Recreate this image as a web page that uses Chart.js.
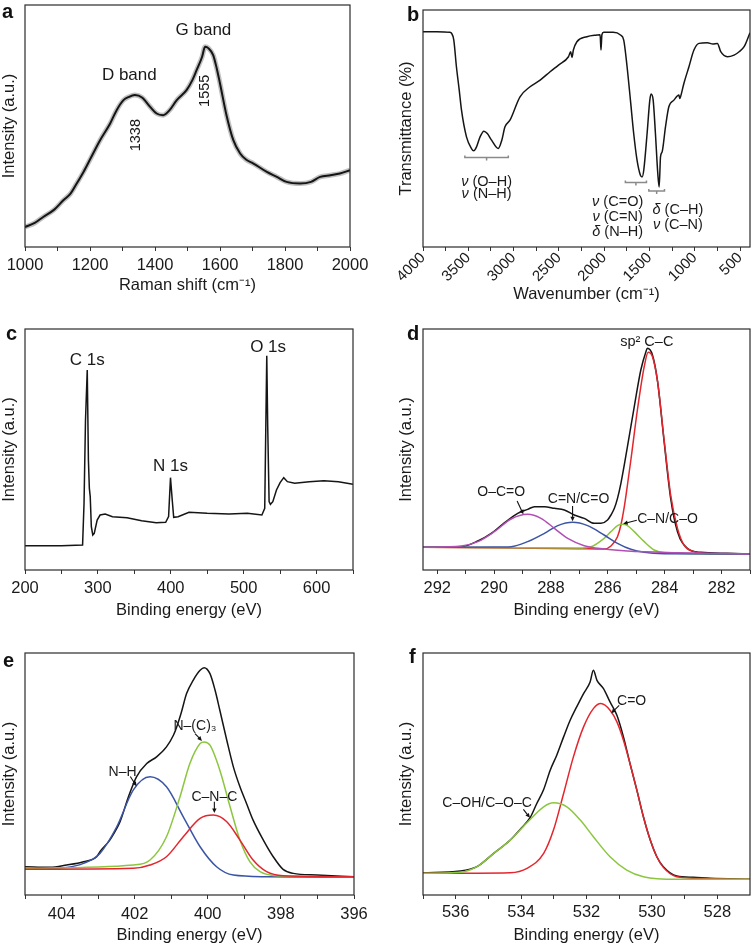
<!DOCTYPE html>
<html><head><meta charset="utf-8">
<script src="https://cdn.jsdelivr.net/npm/chart.js@4.4.1/dist/chart.umd.min.js"></script>
<style>
html,body{margin:0;padding:0;background:#fff;}
#wrap{position:relative;width:754px;height:946px;overflow:hidden;background:#fff;}
canvas{position:absolute;}
</style></head><body><div id="wrap">
<canvas id="ca" width="377" height="300" style="left:0;top:0"></canvas>
<canvas id="cb" width="377" height="305" style="left:377px;top:0"></canvas>
<canvas id="cc" width="377" height="305" style="left:0;top:315px"></canvas>
<canvas id="cd" width="377" height="305" style="left:377px;top:315px"></canvas>
<canvas id="ce" width="377" height="316" style="left:0;top:630px"></canvas>
<canvas id="cf" width="377" height="316" style="left:377px;top:630px"></canvas>
</div>
<script>
// ---------- DATA ----------
// (a) Raman
const ramanShift = [1000,1030,1056,1090,1118,1140,1159,1180,1200,1231,1262,1282,1303,1320,1338,1360,1385,1405,1425,1445,1467,1497,1515,1528,1545,1554,1565,1579,1590,1600,1620,1641,1662,1680,1703,1744,1775,1805,1846,1880,1908,1940,1969,2000];
const ramanIntensity = [60,72,90,112,140,160,190,225,262,320,370,410,440,450,455,448,420,400,395,410,440,470,500,530,570,600,595,575,535,490,395,320,280,262,250,225,210,195,190,195,210,215,220,230];
const ramanMajorTicks = [1000,1200,1400,1600,1800,2000];
const ramanMinorTicks = [1100,1300,1500,1700,1900];

// (b) FTIR
const wavenumber = [4000,3850,3700,3686,3660,3631,3600,3575,3520,3465,3440,3409,3370,3328,3290,3243,3169,3130,3095,3040,2929,2818,2707,2597,2504,2394,2370,2355,2340,2301,2190,2080,2045,2035,2025,2006,1900,1820,1784,1747,1710,1674,1637,1600,1581,1563,1526,1496,1482,1459,1434,1408,1393,1378,1360,1323,1286,1230,1175,1165,1157,1120,1064,1009,953,861,800,750,713,640,566,510,455,390];
const transmittance = [645,645,643,641,620,540,470,410,330,295,288,300,330,347,340,320,295,320,360,380,450,480,500,525,545,570,585,568,590,615,630,635,636,590,636,643,643,635,620,540,440,340,260,215,210,230,340,440,458,440,340,220,180,270,285,360,420,440,455,445,450,490,540,590,610,612,608,610,585,570,575,585,600,642];
const irMajorTicks = [500,1000,1500,2000,2500,3000,3500,4000];
const irMinorTicks = [750,1250,1750,2250,2750,3250,3750];

// (c) XPS survey
const surveyEnergy = [200,250,279,281,283,285.4,287,288.3,289.5,291,293,295,299,303,310,320,340,360,380,393,397,399.6,402,404,410,425,450,480,505,525,528.9,530.5,531.7,533,534.9,536.7,540,545,550,555,560,570,590,610,630,650];
const surveyIntensity = [73,73,75,200,450,600,330,245,220,130,105,110,150,165,168,160,157,148,142,143,160,277,210,158,160,173,170,168,170,165,185,450,643,430,205,197,205,240,262,277,265,260,265,268,265,257];
const surveyMajorTicks = [200,300,400,500,600];
const surveyMinorTicks = [250,350,450,550,650];

// (d) C 1s
const c1sEnergy = [292.5,291.15,290.57,290.10,289.63,289.17,288.82,288.58,288.23,287.88,287.53,287.18,286.83,286.48,286.24,286.01,285.89,285.77,285.66,285.54,285.31,285.07,284.84,284.66,284.61,284.43,284.25,284.02,283.79,283.55,283.20,282.73,281.80,281.0];
const c1sIntensity = [68,70,87,110,142,170,182,190,190,185,180,165,155,140,140,150,165,185,215,260,370,490,600,655,665,645,565,385,215,115,65,53,50,48];
const c1sSp2Energy = [292.5,289.4,287.06,286.13,285.89,285.66,285.54,285.42,285.31,285.19,284.96,284.72,284.58,284.43,284.25,284.02,283.79,283.55,283.32,282.97,282.38,281.0];
const c1sSp2Intensity = [68,66,64,63,72,100,135,190,255,330,480,610,653,640,565,390,225,125,75,55,49,48];
const c1sCNEnergy = [292.5,287.06,286.59,286.13,285.89,285.66,285.48,285.31,285.07,284.72,284.37,284.02,281.0];
const c1sCNIntensity = [68,66,70,95,115,133,137,133,115,85,60,52,48];
const c1sCdNEnergy = [292.5,289.99,289.40,288.82,288.23,287.76,287.24,286.71,286.13,285.66,285.19,284.72,284.02,281.0];
const c1sCdNIntensity = [68,69,70,85,110,133,143,133,105,80,62,53,49,48];
const c1sOCOEnergy = [292.5,291.15,290.57,289.99,289.40,288.82,288.35,287.88,287.41,286.83,286.13,285.31,283.55,281.0];
const c1sOCOIntensity = [68,72,85,115,153,167,155,125,95,73,63,57,52,48];
const c1sMajorTicks = [282,284,286,288,290,292];
const c1sMinorTicks = [281,283,285,287,289,291];

// (e) N 1s
const n1sEnergy = [405,404.32,403.86,403.40,403.04,402.95,402.68,402.49,402.40,402.17,401.95,401.67,401.40,401.13,400.94,400.85,400.72,400.58,400.40,400.21,400.10,399.94,399.80,399.67,399.48,399.30,399.12,398.94,398.76,398.48,398.21,397.94,397.66,397.02,396.0];
const n1sIntensity = [85,83,90,100,115,130,165,200,220,295,355,395,415,445,480,505,550,605,645,675,683,665,615,555,465,385,325,275,225,165,115,77,65,60,55];
const n1sNHEnergy = [405,403.86,403.40,402.95,402.49,402.04,401.58,401.13,400.67,400.21,399.76,399.30,398.39,396.0];
const n1sNHIntensity = [77,83,95,125,205,315,355,325,235,145,85,60,55,53];
const n1sNC3Energy = [405,402.04,401.58,401.13,400.76,400.49,400.21,400.10,399.94,399.67,399.39,399.12,398.85,398.57,398.12,396.0];
const n1sNC3Intensity = [80,90,105,175,295,395,455,460,450,375,265,165,100,70,58,55];
const n1sCNCEnergy = [405,402.04,401.58,401.13,400.67,400.21,399.85,399.48,399.12,398.76,398.39,397.94,396.0];
const n1sCNCIntensity = [77,80,90,115,175,230,240,220,165,105,70,58,55];
const n1sMajorTicks = [396,398,400,402,404];
const n1sMinorTicks = [397,399,401,403,405];

// (f) O 1s
const o1sEnergy = [537,535.86,535.35,534.84,534.33,534.03,533.72,533.52,533.31,533.11,532.91,532.70,532.50,532.30,532.09,531.89,531.79,531.68,531.48,531.28,531.07,530.87,530.67,530.46,530.26,530.05,529.85,529.65,529.24,528.73,528.22,527.0];
const o1sIntensity = [67,72,85,125,165,197,233,275,317,375,420,475,525,565,605,640,675,645,620,580,540,475,395,315,235,165,115,85,57,53,50,47];
const o1sCOEnergy = [537,534.33,533.82,533.31,533.01,532.70,532.40,532.09,531.79,531.56,531.28,531.07,530.87,530.67,530.46,530.26,530.05,529.85,529.65,529.24,528.22,527.0];
const o1sCOIntensity = [65,67,80,125,195,305,415,505,560,575,555,520,465,395,315,235,165,115,83,55,49,47];
const o1sCOHEnergy = [537,535.86,535.35,534.84,534.33,533.82,533.31,533.01,532.60,532.19,531.79,531.28,530.77,530.26,529.24,527.0];
const o1sCOHIntensity = [65,68,85,125,165,217,265,277,265,225,175,115,75,55,47,47];
const o1sMajorTicks = [528,530,532,534,536];
const o1sMinorTicks = [529,531,533,535,537];

// ---------- RENDERING ----------
const FONT = '"Liberation Sans", Arial, Helvetica, sans-serif';
Chart.defaults.font.family = FONT;
Chart.defaults.color = '#1a1a1a';

const pts = (xs, ys) => xs.map((x, i) => ({x, y: ys[i]}));
const C = {black:'#151515', red:'#e3262d', green:'#8cc63f', blue:'#3b55a5', purple:'#b24fb4'};

const overlay = {
  id: 'overlay',
  afterDatasetsDraw(chart, args, o) {
    const {ctx, chartArea: ca} = chart;
    const xs = chart.scales.x, ys = chart.scales.y;
    const px = v => xs.getPixelForValue(v), py = v => ys.getPixelForValue(v);
    ctx.save();
    ctx.strokeStyle = '#2b2b2b'; ctx.lineWidth = 1.2;
    ctx.strokeRect(ca.left, ca.top, ca.right - ca.left, ca.bottom - ca.top);
    ctx.fillStyle = '#111';
    ctx.font = 'bold 20px ' + FONT;
    ctx.textAlign = 'left'; ctx.textBaseline = 'alphabetic';
    ctx.fillText(o.letter, o.lx, o.ly);
    for (const it of (o.items || [])) {
      if (it.k === 't') {
        const size = it.size || 14;
        const X = px(it.x), Y = py(it.y);
        ctx.save();
        ctx.translate(X, Y);
        if (it.rot) ctx.rotate(it.rot * Math.PI / 180);
        ctx.fillStyle = '#1a1a1a';
        ctx.textBaseline = 'middle';
        const normal = size + 'px ' + FONT, ital = 'italic ' + size + 'px ' + FONT;
        let wPre = 0;
        if (it.pre) { ctx.font = ital; wPre = ctx.measureText(it.pre).width; }
        ctx.font = normal; const wMain = ctx.measureText(it.s).width;
        let x0 = -(wPre + wMain) / 2;
        ctx.textAlign = 'left';
        if (it.pre) { ctx.font = ital; ctx.fillText(it.pre, x0, 0); }
        ctx.font = normal; ctx.fillText(it.s, x0 + wPre, 0);
        ctx.restore();
      } else if (it.k === 'a') {
        const x1 = px(it.x1), y1 = py(it.y1), x2 = px(it.x2), y2 = py(it.y2);
        const ang = Math.atan2(y2 - y1, x2 - x1), h = 5;
        ctx.strokeStyle = '#111'; ctx.fillStyle = '#111'; ctx.lineWidth = 1.1;
        ctx.beginPath(); ctx.moveTo(x1, y1);
        ctx.lineTo(x2 - Math.cos(ang) * h * 0.8, y2 - Math.sin(ang) * h * 0.8); ctx.stroke();
        ctx.beginPath(); ctx.moveTo(x2, y2);
        ctx.lineTo(x2 - h * Math.cos(ang - 0.45), y2 - h * Math.sin(ang - 0.45));
        ctx.lineTo(x2 - h * Math.cos(ang + 0.45), y2 - h * Math.sin(ang + 0.45));
        ctx.closePath(); ctx.fill();
      } else if (it.k === 'b') {
        const x1 = px(it.x1), x2 = px(it.x2), Y = py(it.y), xm = (x1 + x2) / 2;
        ctx.strokeStyle = '#8a8a8a'; ctx.lineWidth = 1.5;
        ctx.beginPath();
        ctx.moveTo(x1, Y - 2); ctx.lineTo(x1, Y); ctx.lineTo(x2, Y); ctx.lineTo(x2, Y - 2);
        ctx.moveTo(xm, Y); ctx.lineTo(xm, Y + 3);
        ctx.stroke();
      }
    }
    ctx.restore();
  }
};

function makeChart(id, cfg) {
  const allTicks = [...cfg.major, ...cfg.minor].sort((a, b) => a - b);
  return new Chart(document.getElementById(id), {
    type: 'line',
    data: {
      datasets: cfg.datasets.map((d, i) => ({
        data: d.data, borderColor: d.color, borderWidth: d.width || 1.5,
        pointRadius: 0, fill: false, tension: 0.4,
        cubicInterpolationMode: d.mono === false ? 'default' : 'monotone',
        ...(d.mono === false ? {tension: 0} : {}),
        order: d.order !== undefined ? d.order : i
      }))
    },
    options: {
      responsive: false, animation: false, devicePixelRatio: 1, events: [],
      layout: {padding: cfg.pad},
      plugins: {legend: {display: false}, tooltip: {enabled: false},
        overlay: {letter: cfg.letter, lx: cfg.lx, ly: cfg.ly, items: cfg.items}},
      scales: {
        x: {
          type: 'linear', position: 'bottom', min: cfg.xmin, max: cfg.xmax, reverse: !!cfg.reverse,
          afterBuildTicks: s => { s.ticks = allTicks.map(v => ({value: v})); },
          afterFit: s => { s.height = cfg.xh; },
          ticks: {
            autoSkip: false, maxRotation: cfg.rot || 0, minRotation: cfg.rot || 0,
            padding: cfg.tpad, color: '#1a1a1a', font: {size: cfg.tsize || 16.5},
            callback: v => cfg.major.some(m => Math.abs(m - v) < 1e-9) ? String(v) : ''
          },
          grid: {drawOnChartArea: false, drawTicks: true, tickLength: 4, color: '#333', lineWidth: 1},
          border: {display: false},
          title: {display: true, text: cfg.xtitle, color: '#1a1a1a', font: {size: 16.5},
            padding: {top: 0, bottom: cfg.xtpad}}
        },
        y: {
          type: 'linear', position: 'left', min: 0, max: cfg.ymax,
          afterFit: s => { s.width = cfg.yw; },
          ticks: {display: false}, grid: {display: false}, border: {display: false},
          title: {display: true, text: cfg.ytitle, color: '#1a1a1a', font: {size: 16.5},
            padding: {top: cfg.ytpad, bottom: 0}}
        }
      }
    },
    plugins: [overlay]
  });
}

// (a)
makeChart('ca', {
  letter: 'a', lx: 2, ly: 18,
  pad: {left: 0, top: 5, right: 27, bottom: 0}, yw: 25, xh: 53,
  xmin: 1000, xmax: 2000, ymax: 725, major: ramanMajorTicks, minor: ramanMinorTicks,
  tpad: 5, xtpad: 5, ytpad: 0,
  xtitle: 'Raman shift (cm⁻¹)', ytitle: 'Intensity (a.u.)',
  datasets: [
    {data: pts(ramanShift, ramanIntensity), color: C.black, width: 2, order: 0},
    {data: pts(ramanShift, ramanIntensity), color: 'rgba(130,130,130,0.5)', width: 5, order: 1}
  ],
  items: [
    {k: 't', x: 1549, y: 648, s: 'G band', size: 17},
    {k: 't', x: 1321, y: 515, s: 'D band', size: 17},
    {k: 't', x: 1343, y: 335, s: '1338', size: 14.5, rot: -90},
    {k: 't', x: 1554, y: 468, s: '1555', size: 14.5, rot: -90}
  ]
});

// (b)
makeChart('cb', {
  letter: 'b', lx: 30, ly: 21,
  pad: {left: 0, top: 10, right: 4, bottom: 0}, yw: 46, xh: 58,
  xmin: 390, xmax: 4000, reverse: true, ymax: 710, major: irMajorTicks, minor: irMinorTicks, rot: 45,
  tpad: -2, tsize: 15, xtpad: 1, ytpad: 20,
  xtitle: 'Wavenumber (cm⁻¹)', ytitle: 'Transmittance (%)',
  datasets: [{data: pts(wavenumber, transmittance), color: C.black, width: 1.5}],
  items: [
    {k: 'b', x1: 3538, x2: 3058, y: 268},
    {k: 't', x: 3298, y: 195, pre: 'ν', s: ' (O–H)', size: 14.5},
    {k: 't', x: 3298, y: 160, pre: 'ν', s: ' (N–H)', size: 14.5},
    {k: 'b', x1: 1766, x2: 1533, y: 193},
    {k: 'b', x1: 1507, x2: 1334, y: 168},
    {k: 't', x: 1851, y: 135, pre: 'ν', s: ' (C=O)', size: 14.5},
    {k: 't', x: 1851, y: 90, pre: 'ν', s: ' (C=N)', size: 14.5},
    {k: 't', x: 1851, y: 45, pre: 'δ', s: ' (N–H)', size: 14.5},
    {k: 't', x: 1186, y: 110, pre: 'δ', s: ' (C–H)', size: 14.5},
    {k: 't', x: 1186, y: 65, pre: 'ν', s: ' (C–N)', size: 14.5}
  ]
});

// (c)
makeChart('cc', {
  letter: 'c', lx: 6, ly: 25,
  pad: {left: 0, top: 14, right: 24, bottom: 0}, yw: 25, xh: 50,
  xmin: 200, xmax: 650, ymax: 723, major: surveyMajorTicks, minor: surveyMinorTicks,
  tpad: 5, xtpad: 0, ytpad: 0,
  xtitle: 'Binding energy (eV)', ytitle: 'Intensity (a.u.)',
  datasets: [{data: pts(surveyEnergy, surveyIntensity), color: C.black, width: 1.5, mono: false}],
  items: [
    {k: 't', x: 285.4, y: 630, s: 'C 1s', size: 17},
    {k: 't', x: 399.6, y: 310, s: 'N 1s', size: 17},
    {k: 't', x: 533.5, y: 668, s: 'O 1s', size: 17}
  ]
});

// (d)
makeChart('cd', {
  letter: 'd', lx: 30, ly: 25,
  pad: {left: 0, top: 14, right: 4, bottom: 0}, yw: 46, xh: 50,
  xmin: 281, xmax: 292.5, reverse: true, ymax: 723, major: c1sMajorTicks, minor: c1sMinorTicks,
  tpad: 5, xtpad: 0, ytpad: 20,
  xtitle: 'Binding energy (eV)', ytitle: 'Intensity (a.u.)',
  datasets: [
    {data: pts(c1sOCOEnergy, c1sOCOIntensity), color: C.purple, order: 0},
    {data: pts(c1sCdNEnergy, c1sCdNIntensity), color: C.blue, order: 1},
    {data: pts(c1sCNEnergy, c1sCNIntensity), color: C.green, order: 2},
    {data: pts(c1sSp2Energy, c1sSp2Intensity), color: C.red, order: 3},
    {data: pts(c1sEnergy, c1sIntensity), color: C.black, order: 4}
  ],
  items: [
    {k: 't', x: 284.63, y: 685, s: 'sp² C–C', size: 14.5},
    {k: 't', x: 289.75, y: 235, s: 'O–C=O', size: 14},
    {k: 'a', x1: 289.19, y1: 207, x2: 288.97, y2: 167},
    {k: 't', x: 287.03, y: 212, s: 'C=N/C=O', size: 14},
    {k: 'a', x1: 287.24, y1: 192, x2: 287.24, y2: 146},
    {k: 't', x: 283.9, y: 153, s: 'C–N/C–O', size: 14},
    {k: 'a', x1: 284.98, y1: 149, x2: 285.46, y2: 139}
  ]
});

// (e)
makeChart('ce', {
  letter: 'e', lx: 3, ly: 37,
  pad: {left: 0, top: 23, right: 23, bottom: 0}, yw: 25, xh: 51,
  xmin: 396, xmax: 405, reverse: true, ymax: 727, major: n1sMajorTicks, minor: n1sMinorTicks,
  tpad: 6, xtpad: 1, ytpad: 0,
  xtitle: 'Binding energy (eV)', ytitle: 'Intensity (a.u.)',
  datasets: [
    {data: pts(n1sCNCEnergy, n1sCNCIntensity), color: C.red, order: 0},
    {data: pts(n1sNC3Energy, n1sNC3Intensity), color: C.green, order: 1},
    {data: pts(n1sNHEnergy, n1sNHIntensity), color: C.blue, order: 2},
    {data: pts(n1sEnergy, n1sIntensity), color: C.black, order: 3}
  ],
  items: [
    {k: 't', x: 400.35, y: 507, s: 'N–(C)₃', size: 14},
    {k: 'a', x1: 400.35, y1: 485, x2: 400.16, y2: 463},
    {k: 't', x: 402.33, y: 370, s: 'N–H', size: 14},
    {k: 'a', x1: 402.12, y1: 356, x2: 401.95, y2: 327},
    {k: 't', x: 399.82, y: 295, s: 'C–N–C', size: 14},
    {k: 'a', x1: 399.82, y1: 280, x2: 399.82, y2: 246}
  ]
});

// (f)
makeChart('cf', {
  letter: 'f', lx: 32, ly: 33,
  pad: {left: 0, top: 23, right: 4, bottom: 0}, yw: 46, xh: 51,
  xmin: 527, xmax: 537, reverse: true, ymax: 727, major: o1sMajorTicks, minor: o1sMinorTicks,
  tpad: 4, xtpad: 1, ytpad: 20,
  xtitle: 'Binding energy (eV)', ytitle: 'Intensity (a.u.)',
  datasets: [
    {data: pts(o1sCOHEnergy, o1sCOHIntensity), color: C.green, order: 0},
    {data: pts(o1sCOEnergy, o1sCOIntensity), color: C.red, order: 1},
    {data: pts(o1sEnergy, o1sIntensity), color: C.black, order: 2}
  ],
  items: [
    {k: 't', x: 530.62, y: 583, s: 'C=O', size: 14},
    {k: 'a', x1: 531.0, y1: 570, x2: 531.24, y2: 546},
    {k: 't', x: 535.04, y: 275, s: 'C–OH/C–O–C', size: 14},
    {k: 'a', x1: 533.93, y1: 257, x2: 533.73, y2: 232}
  ]
});
</script>
</body></html>
